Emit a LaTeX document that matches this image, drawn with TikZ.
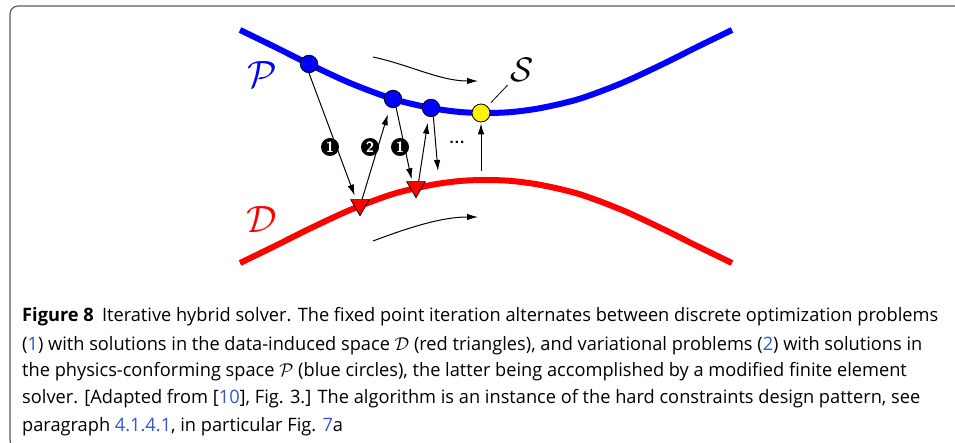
\RequirePackage{fix-cm}
\documentclass[tikz,border=0pt]{standalone}
\usepackage{amsmath}
\usepackage{amssymb}
\usepackage{fontspec}
\usepackage{xcolor}
\usetikzlibrary{arrows.meta}
\usetikzlibrary{shapes.geometric}
\newfontfamily\capfont{Open Sans}
\definecolor{linkblue}{RGB}{51,85,214}
\definecolor{framegray}{RGB}{90,90,90}
\newsavebox\capbox
\newlength\caplen
\newcommand\capline[1]{\scalebox{\capsx}[1]{#1}}
\AtBeginDocument{%
  \sbox\capbox{\capfont\fontsize{18.5}{22}\selectfont\textbf{Figure 8}\hspace{0.45em}Iterative hybrid solver. The fixed point iteration alternates between discrete optimization problems}%
  \setlength\caplen{\wd\capbox}%
  \pgfmathsetmacro\capsx{916/\caplen}}

\begin{document}
\begin{tikzpicture}[x=1pt,y=-1pt,
  pline/.style={blue,line width=6pt},
  dline/.style={red,line width=6pt},
  pdot/.style={circle,fill=blue,draw=black,line width=0.8pt,inner sep=0pt,minimum size=17.5pt},
  sdot/.style={circle,fill=yellow,draw=black,line width=0.8pt,inner sep=0pt,minimum size=18pt},
  dtri/.style={regular polygon,regular polygon sides=3,shape border rotate=180,fill=red,draw=black,line width=0.7pt,inner sep=0pt,minimum size=21.5pt},
  arr/.style={-{Latex[length=11pt,width=6.5pt]},line width=1pt},
  stepnum/.style={circle,fill=black,text=white,inner sep=0pt,minimum size=18pt,font=\sffamily\bfseries\fontsize{15}{15}\selectfont},
  caption/.style={anchor=base west,inner sep=0pt,font=\capfont\fontsize{18.5}{22}\selectfont}]
\clip (0,0) rectangle (955,443);
\draw[framegray,line width=1.2pt,rounded corners=8pt] (10,6) rectangle (975,448);

% the two spaces
\draw[pline] plot[smooth] coordinates {(240,30) (275,47) (309,64) (350,83) (393,99) (431,108) (460,112) (486,113) (512,112) (541,108) (579,99) (622,83) (663,64) (697,47) (732,30)};
\draw[dline] plot[smooth] coordinates {(240,263) (275,246) (309,229) (350,210) (393,194) (431,185) (460,181) (486,180) (512,181) (541,185) (579,194) (622,210) (663,229) (697,246) (732,263)};
\node[blue,font=\fontsize{38}{38}\selectfont] (Plab) at (262,75) {$\mathcal{P}$};
\node[red,font=\fontsize{38}{38}\selectfont] (Dlab) at (262,220) {$\mathcal{D}$};

% iterates
\node[pdot] (c1) at (309,64) {};
\node[pdot] (c2) at (393,99) {};
\node[pdot] (c3) at (431,108) {};
\node[sdot] (s) at (481,113) {};
\node[dtri] (t1) at (360,205) {};
\node[dtri] (t2) at (416,187) {};
\node[font=\fontsize{34}{34}\selectfont] (Slab) at (522,70) {$\mathcal{S}$};
\draw[line width=0.8pt,shorten >=5pt] (Slab) -- (s);

% projections
\coordinate (e5) at (438,171);
\coordinate (e7) at (481,171);
\draw[arr,shorten >=4pt] (c1.south) -- (t1.125);
\draw[arr,shorten >=7pt] (t1.70) -- (c2.250);
\draw[arr,shorten >=2pt] (c2.290) -- (t2.125);
\draw[arr,shorten >=6pt] (t2.65) -- (c3.255);
\draw[arr] (c3.285) -- (e5);
\draw[arr,shorten >=1pt] (e7) -- (s.south);
\node[stepnum] (n1) at (330,147) {1};
\node[stepnum] (n2) at (370,147) {2};
\node[stepnum] (n3) at (400,147) {1};
\node[font=\sffamily\bfseries\fontsize{17}{17}\selectfont] (dots) at (457,142) {...};

% direction of the iteration
\coordinate (pa) at (373,57);
\coordinate (pb) at (478,81);
\coordinate (da) at (373,241);
\coordinate (db) at (478,217);
\draw[arr] (pa) .. controls (410,65) and (440,81) .. (pb);
\draw[arr] (da) .. controls (405,229) and (440,217) .. (db);

% caption
\node[caption] (cap1) at (22,322) {\capline{\textbf{Figure 8}\hspace{0.45em}Iterative hybrid solver. The fixed point iteration alternates between discrete optimization problems}};
\node[caption] (cap2) at (22,350) {\capline{({\color{linkblue}1}) with solutions in the data-induced space $\mathcal{D}$ (red triangles), and variational problems ({\color{linkblue}2}) with solutions in}};
\node[caption] (cap3) at (22,376) {\capline{the physics-conforming space $\mathcal{P}$ (blue circles), the latter being accomplished by a modified finite element}};
\node[caption] (cap4) at (22,403) {\capline{solver. [Adapted from [{\color{linkblue}10}], Fig. 3.] The algorithm is an instance of the hard constraints design pattern, see}};
\node[caption] (cap5) at (22,431) {\capline{paragraph {\color{linkblue}4.1.4.1}, in particular Fig. {\color{linkblue}7}a}};
\end{tikzpicture}
\end{document}
